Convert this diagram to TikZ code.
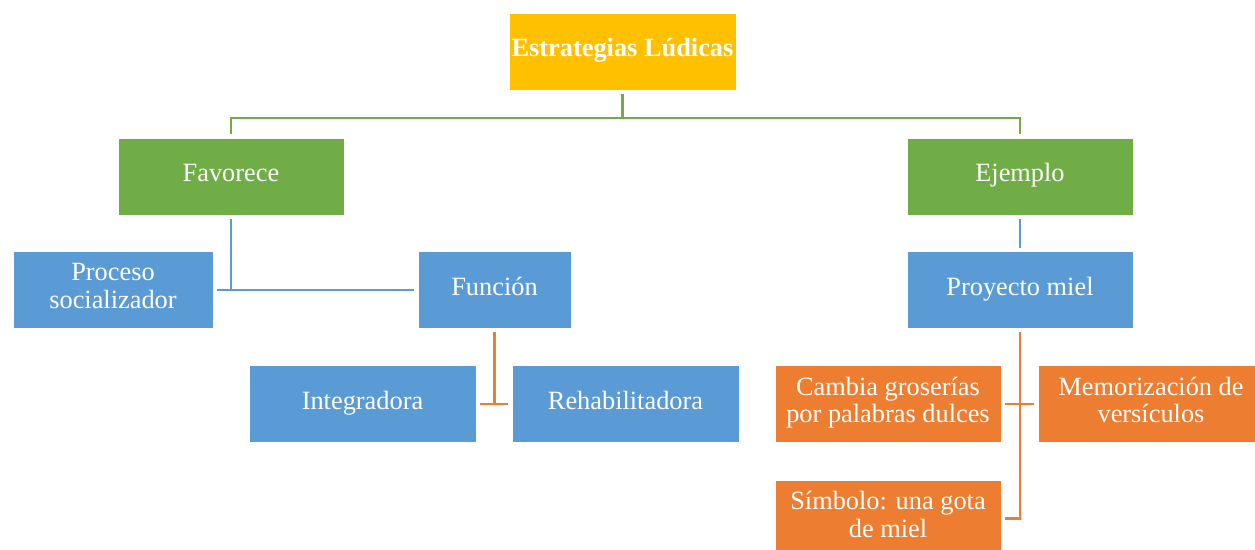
\documentclass[tikz,border=0pt]{standalone}
\usepackage{fontspec}
\setmainfont{Liberation Serif}
\usetikzlibrary{calc}

\definecolor{gold}{HTML}{FFC000}
\definecolor{leaf}{HTML}{70AD47}
\definecolor{sky}{HTML}{5B9BD5}
\definecolor{carrot}{HTML}{ED7D31}

\tikzset{
  box/.style={draw=white, line width=0.5pt, text=white, align=center, inner sep=0pt,
    minimum height=1.54cm, font=\fontsize{15}{15.5}\selectfont,
    execute at begin node=\strut},
  rootbox/.style={box, fill=gold, minimum width=4.54cm, font=\fontsize{15}{15.5}\selectfont\bfseries},
  greenbox/.style={box, fill=leaf, minimum width=4.52cm},
  bluebox/.style={box, fill=sky},
  orangebox/.style={box, fill=carrot, minimum width=4.52cm},
  linkgreen/.style={draw=leaf, line width=1.2pt},
  linkblue/.style={draw=sky, line width=1.2pt},
  linkorange/.style={draw=carrot, line width=1.2pt}
}

\begin{document}
\begin{tikzpicture}[x=0.02cm, y=-0.02cm]
		\clip (0,0) rectangle (1255,550);

		% top level
		\node[rootbox] (root) at (622.5,51.5) {Estrategias Lúdicas};
		\node[greenbox] (fav) at (231,176.5) {Favorece};
		\node[greenbox] (ejm) at (1020,176.5) {Ejemplo};

		\coordinate (gbus) at (0,118);
		\draw[linkgreen] ([yshift=-2pt]root.south) -- (root.south |- gbus);
		\draw[linkgreen] ([yshift=2pt]fav.north) |- (ejm.north |- gbus) -- ([yshift=2pt]ejm.north);

		% left branch
		\node[bluebox, minimum width=4cm] (proc) at (113,290) {Proceso\\socializador\strut};
		\node[bluebox, minimum width=3.06cm] (func) at (494.5,290) {Función};
		\draw[linkblue] ([xshift=2pt]proc.east) -- ([xshift=-2pt]func.west);
		\draw[linkblue] ([yshift=-2pt]fav.south) -- (fav.south |- proc.east);

		\node[bluebox, minimum width=4.54cm] (integ) at (362.5,404) {Integradora};
		\node[bluebox, minimum width=4.54cm] (rehab) at (625.5,404) {Rehabilitadora};
		\draw[linkorange] ([yshift=-2pt]func.south) -- (func.south |- integ.east);
		\draw[linkorange] ([xshift=2pt]integ.east) -- ([xshift=-2pt]rehab.west);

		% right branch
		\node[bluebox, minimum width=4.52cm] (proy) at (1020,290) {Proyecto miel};
		\draw[linkblue] ([yshift=-2pt]ejm.south) -- ([yshift=2pt]proy.north);

		\node[orangebox] (camb) at (888,404) {Cambia groserías\\por palabras dulces\strut};
		\node[orangebox] (memo) at (1151,404) {Memorización de\\versículos\strut};
		\node[orangebox] (simb) at (888,518.5) {Símbolo: una gota\\de miel\strut};
		\draw[linkorange] ([yshift=-2pt]proy.south) |- ([xshift=2pt]simb.east);
		\draw[linkorange] ([xshift=2pt]camb.east) -- ([xshift=-2pt]memo.west);

	\end{tikzpicture}
\end{document}
